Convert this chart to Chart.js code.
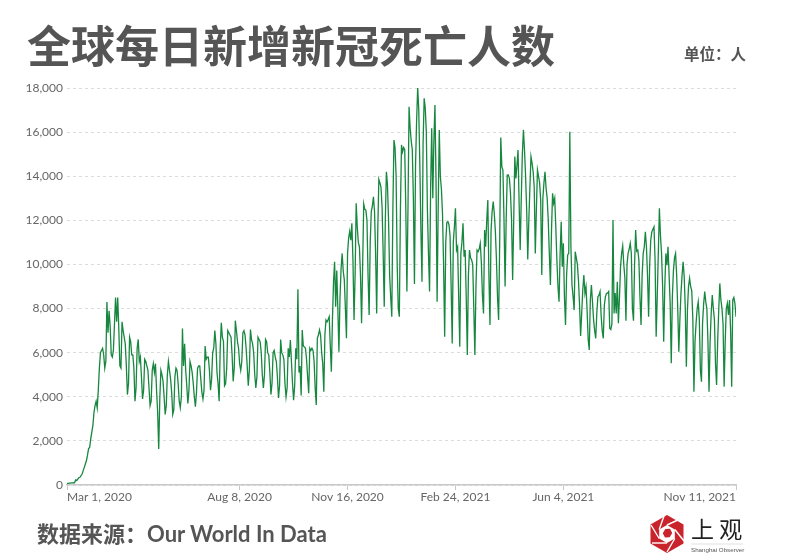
<!DOCTYPE html>
<html>
<head>
<meta charset="utf-8">
<script src="https://cdn.jsdelivr.net/npm/chart.js@4.4.1/dist/chart.umd.min.js"></script>
<style>
  html, body { margin: 0; padding: 0; background: #fff; }
  #wrap { position: relative; width: 799px; height: 554px; overflow: hidden; }
  #chart { position: absolute; left: 0; top: 0; }
  .title { position: absolute; left: 27px; top: 18px; font: bold 44px "Noto Sans CJK SC", sans-serif; color: #555; line-height: 52px; white-space: nowrap; }
  .unit { position: absolute; left: 684px; top: 42px; font: bold 15.5px "Noto Sans CJK SC", sans-serif; color: #555; line-height: 22px; }
  .source { position: absolute; left: 37px; top: 519px; font: bold 22px "Lato", "Noto Sans CJK SC", sans-serif; color: #555; line-height: 30px; white-space: nowrap; }
  .logo { position: absolute; left: 646px; top: 513px; }
</style>
</head>
<body>
<div id="wrap">
  <canvas id="chart" width="799" height="554"></canvas>
  <div class="title">全球每日新增新冠死亡人数</div>
  <div class="unit">单位：人</div>
  <div class="source">数据来源：Our World In Data</div>
  <svg class="logo" width="105" height="42" viewBox="0 0 105 42">
    <polygon points="21,2 37.5,11.5 37.5,30.5 21,40 4.5,30.5 4.5,11.5" fill="#c9232b"/>
    <polygon points="21,10 28.8,14.5 28.8,23.5 21,28 13.2,23.5 13.2,14.5" fill="#fff" transform="translate(0,2)"/>
    <polygon points="21,15 25,17.5 25,22.5 21,25 17,22.5 17,17.5" fill="#c9232b" transform="rotate(30 21 21)"/>
    <g stroke="#fff" stroke-width="1.4">
      <line x1="21" y1="12" x2="34" y2="6"/>
      <line x1="28.8" y1="16.5" x2="38" y2="28"/>
      <line x1="28.8" y1="25.5" x2="21" y2="39"/>
      <line x1="21" y1="30" x2="6" y2="30"/>
      <line x1="13.2" y1="25.5" x2="5" y2="12"/>
      <line x1="13.2" y1="16.5" x2="18" y2="3"/>
    </g>
    <text x="45" y="25" font-family="Noto Sans CJK SC" font-size="23" fill="#222">上 观</text>
    <line x1="45" y1="31" x2="97" y2="31" stroke="#ccc" stroke-width="0.6"/>
    <text x="45" y="39" font-family="Liberation Sans" font-size="6.2" fill="#555">Shanghai Observer</text>
  </svg>
</div>
<script>
// Daily new COVID-19 deaths worldwide, one value per day from Mar 1, 2020 (day 0) to Nov 11, 2021 (day 620)
const dailyDeaths = [
  60, 70, 80, 90, 100, 100, 110,
  100, 230, 200, 270, 330, 350, 420,
  500, 650, 800, 950, 1100, 1350, 1650,
  1700, 2100, 2400, 2700, 3300, 3600, 3800,
  3500, 4300, 5300, 6000, 6100, 6200, 5900,
  5300, 5600, 8300, 6900, 7900, 7200, 5900,
  5800, 6100, 7300, 8500, 7400, 8500, 7100,
  5400, 5300, 7400, 7000, 6700, 6400, 5400,
  4100, 4600, 6700, 6500, 5900, 5900, 5300,
  3800, 4400, 6200, 6600, 5600, 5800, 4900,
  3900, 4300, 5700, 5600, 5400, 5200, 4400,
  3600, 3800, 5200, 5500, 5100, 5500, 4300,
  3300, 1630, 3900, 5200, 5000, 4700, 4000,
  3200, 3600, 5000, 5600, 5200, 4800, 4200,
  3200, 3400, 4900, 5300, 5200, 4600, 3800,
  3500, 4000, 7100, 5400, 6400, 5200, 4500,
  3700, 4300, 5600, 5400, 5100, 4600, 4000,
  3550, 4200, 5300, 5400, 5400, 4800, 4200,
  3900, 4300, 6300, 5700, 5800, 5800, 5200,
  4300, 4800, 6000, 6200, 7000, 6400, 5100,
  4600, 3800, 6200, 7350, 6700, 6500, 4500,
  4600, 5300, 7000, 6900, 6800, 6700, 5900,
  4700, 5300, 7450, 7000, 6500, 6200, 5500,
  5200, 5600, 6900, 7000, 6800, 6200, 5400,
  4500, 5200, 7050, 6600, 6400, 6000, 5000,
  4400, 4900, 6700, 6600, 6500, 6000, 5000,
  4400, 5000, 6600, 6500, 6000, 5900, 5100,
  4100, 4600, 6000, 6100, 5800, 5600, 4900,
  3950, 4500, 6600, 6000, 5900, 5700, 4600,
  4000, 4400, 6200, 5800, 6570, 5600, 4600,
  3850, 4500, 6200, 5700, 8870, 5100, 5400,
  4060, 7030, 6300, 6260, 6200, 5700, 4900,
  4160, 6200, 6100, 6200, 6100, 5600, 4400,
  3630, 6650, 6800, 7030, 6800, 6000, 5500,
  4230, 6800, 7480, 7400, 7500, 7630, 6300,
  5140, 7500, 9200, 10120, 8080, 9720, 8000,
  6040, 8500, 9800, 10500, 9700, 9300, 8000,
  6650, 10500, 11200, 11500, 11100, 11870, 10200,
  7480, 9500, 12770, 11700, 11000, 10800, 9500,
  7330, 10000, 12740, 12500, 12450, 12000, 9500,
  7710, 11000, 12400, 12650, 13070, 12400, 10500,
  7780, 11500, 13860, 13700, 13500, 12600, 10500,
  8080, 12000, 14200, 13600, 12000, 9500, 8500,
  7630, 12500, 15640, 15300, 14000, 10000, 8000,
  7630, 12500, 15420, 15100, 15300, 15200, 12500,
  8770, 12500, 17150, 16200, 15600, 15200, 13000,
  9110, 14500, 16500, 18030, 17000, 14500, 11500,
  9220, 15500, 17530, 17100, 16000, 12500, 10500,
  8770, 13500, 16170, 13000, 15600, 17230, 13800,
  8310, 12500, 16100, 14000, 13400, 12300, 10000,
  6720, 11000, 11900, 11940, 11800, 11300, 9000,
  6420, 11000, 11700, 12550, 10650, 10800, 8500,
  6270, 10500, 11000, 11870, 10350, 10650, 8500,
  5890, 9500, 10650, 10300, 10200, 10000, 8000,
  5890, 9000, 10650, 10580, 10700, 10960, 10100,
  8600, 7780, 11560, 10800, 12000, 12920, 9500,
  7250, 11560, 12400, 12850, 12300, 11500, 10200,
  8500, 7480, 11000, 15760, 14430, 14280, 12000,
  9000, 12000, 14050, 14060, 13900, 13230, 12000,
  9290, 12000, 14890, 13900, 14500, 15190, 12770,
  10650, 13000, 15000, 16100, 15190, 14000, 12500,
  10230, 12000, 13500, 14890, 14600, 14200, 13500,
  10500, 12500, 14280, 14000, 13700, 12900, 9520,
  13000, 13700, 14200, 13450, 13000, 12000, 10500,
  9070, 11500, 13230, 12770, 13000, 11700, 10200,
  9000, 8310, 10500, 11940, 9900, 10960, 8540,
  7250, 9500, 10430, 10500, 16020, 10800, 9070,
  8540, 7930, 10580, 10300, 10000, 9290, 8160,
  6760, 7800, 8840, 9520, 8690, 8990, 7930,
  6600, 6120, 8390, 9070, 8300, 7500, 7000,
  6650, 7800, 8540, 8610, 8770, 7700, 7000,
  6650, 8160, 8540, 8690, 8700, 8770, 7100,
  7050, 7300, 12010, 7780, 8700, 7780, 9220,
  7330, 8500, 9900, 10500, 10840, 10000, 9400,
  7450, 10000, 10500, 10700, 10960, 10500, 8000,
  7450, 10000, 11560, 10600, 10650, 10200, 8500,
  7250, 9500, 10500, 10800, 11480, 10800, 9500,
  7630, 10000, 11110, 11480, 11600, 11710, 10200,
  6720, 8500, 10500, 12550, 11300, 10500, 9000,
  6500, 9000, 10500, 9970, 10800, 9500, 8200,
  5520, 8500, 9700, 10300, 10500, 9520, 8000,
  6040, 7500, 8690, 9500, 10120, 9440, 8000,
  5360, 7930, 9000, 9370, 8990, 8800, 7500,
  4230, 6500, 7330, 8000, 8310, 7500, 5200,
  4680, 7330, 8200, 8770, 8300, 8000, 6500,
  4230, 6500, 7780, 8610, 8000, 7500, 5500,
  4530, 6500, 7930, 9140, 8390, 8000, 7300,
  4460, 6500, 8000, 8240, 7710, 8390, 7000,
  4460, 8390, 8500, 8240, 7630
];

// x-axis ticks: day offsets from Mar 1, 2020 and their labels
const tickDays = [0, 160, 260, 360, 460, 620];
const tickLabels = ['Mar 1, 2020', 'Aug 8, 2020', 'Nov 16, 2020', 'Feb 24, 2021', 'Jun 4, 2021', 'Nov 11, 2021'];

// y-axis range
const yMax = 18000;
const yStep = 2000;

const points = dailyDeaths.map((v, i) => ({ x: i, y: v }));

const ctx = document.getElementById('chart').getContext('2d');
new Chart(ctx, {
  type: 'line',
  data: {
    datasets: [{
      data: points,
      borderColor: '#17873f',
      borderWidth: 1.3,
      pointRadius: 0,
      tension: 0,
      fill: false
    }]
  },
  options: {
    responsive: false,
    animation: false,
    devicePixelRatio: 1,
    layout: { padding: { left: 0, right: 63, top: 88, bottom: 39 } },
    plugins: { legend: { display: false }, tooltip: { enabled: false } },
    scales: {
      x: {
        type: 'linear',
        min: 0,
        max: dailyDeaths.length - 1,
        afterFit: scale => { scale.height = 30; },
        afterBuildTicks: scale => { scale.ticks = tickDays.map(d => ({ value: d })); },
        grid: { drawOnChartArea: false, drawTicks: true, tickLength: 5, color: '#c8c8c8' },
        border: { display: true, color: '#c8c8c8', width: 1.5 },
        ticks: {
          autoSkip: false,
          maxRotation: 0,
          align: 'inner',
          padding: 0,
          color: '#666',
          font: { family: 'Lato', size: 12 },
          callback: value => tickLabels[tickDays.indexOf(value)] || ''
        }
      },
      y: {
        min: 0,
        max: yMax,
        afterFit: scale => { scale.width = 67; },
        grid: { drawTicks: false, color: '#dcdcdc', lineWidth: 1 },
        border: { display: false, dash: [3, 3] },
        ticks: {
          stepSize: yStep,
          padding: 4,
          color: '#666',
          font: { family: 'Lato', size: 12 },
          callback: v => v.toLocaleString('en-US')
        }
      }
    }
  }
});
</script>
</body>
</html>
